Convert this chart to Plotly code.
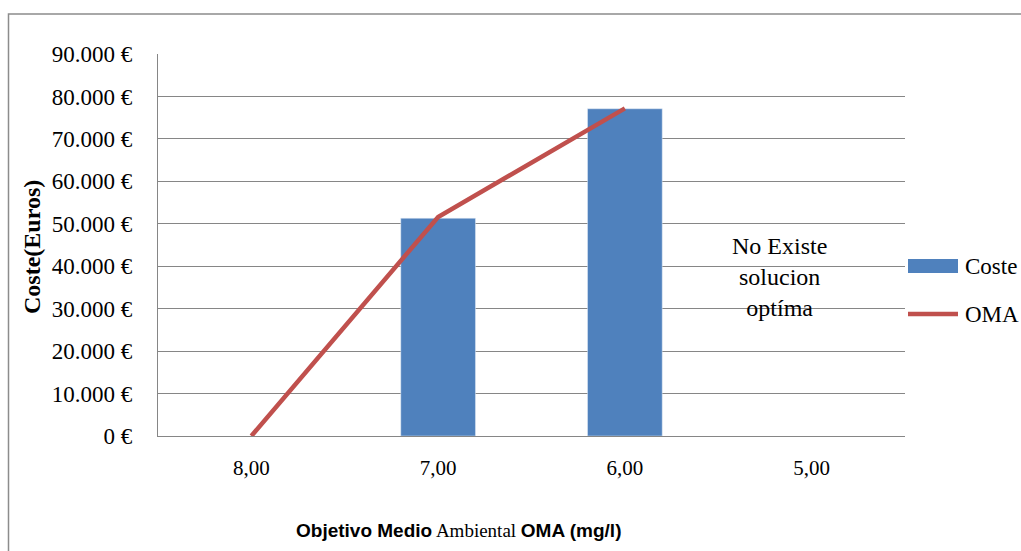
import plotly.graph_objects as go

categories = ["8,00", "7,00", "6,00", "5,00"]
coste = [None, 51300, 77100, None]
oma = [0, 51600, 77200, None]
y_ticks = [0, 10000, 20000, 30000, 40000, 50000, 60000, 70000, 80000, 90000]
y_tick_text = ["0 €", "10.000 €", "20.000 €", "30.000 €", "40.000 €", "50.000 €",
               "60.000 €", "70.000 €", "80.000 €", "90.000 €"]
note_text = "No Existe<br>solucion<br>optíma"

W, H = 1021, 551
L, R, T, B = 158, 905, 54, 436
pw, ph = R - L, B - T

def px(x):  # page pixel -> paper x
    return (x - L) / pw

def py(y):  # page pixel -> paper y
    return (B - y) / ph

serif = "Liberation Serif"
grid = "#868686"
blue = "#4F81BD"
red = "#C0504D"

fig = go.Figure()
fig.add_trace(go.Bar(x=categories, y=coste, name="Coste", marker_color=blue,
                     showlegend=False))
fig.add_trace(go.Scatter(x=categories, y=oma, name="OMA", mode="lines",
                         line=dict(color=red, width=4.5), showlegend=False))

fig.update_layout(
    width=W, height=H,
    margin=dict(l=L, r=W - R, t=T, b=H - B),
    paper_bgcolor="white", plot_bgcolor="white",
    bargap=0.6,
    font=dict(family=serif, size=21, color="black"),
    xaxis=dict(type="category", showgrid=False, showline=True, linecolor=grid,
               linewidth=1.2, ticks="", tickfont=dict(size=21), ticklabelstandoff=13),
    yaxis=dict(range=[0, 90000], tickvals=y_ticks, ticktext=y_tick_text,
               showgrid=True, gridcolor=grid, gridwidth=1.2, showline=True,
               linecolor=grid, linewidth=1.2, ticks="", zeroline=False,
               tickfont=dict(size=23), ticklabelstandoff=20),
)

# outer chart border
fig.add_shape(type="rect", xref="paper", yref="paper",
              x0=px(8.5), x1=px(1040), y0=py(570), y1=py(14),
              line=dict(color="#8c8c8c", width=1.5), layer="below")

# legend (drawn)
fig.add_shape(type="rect", xref="paper", yref="paper",
              x0=px(908), x1=px(958), y0=py(273), y1=py(259),
              fillcolor=blue, line=dict(width=0))
fig.add_shape(type="line", xref="paper", yref="paper",
              x0=px(908), x1=px(958), y0=py(314), y1=py(314),
              line=dict(color=red, width=4.5))
fig.add_annotation(x=px(963), y=py(266), xref="paper", yref="paper",
                   xanchor="left", yanchor="middle", text="Coste", showarrow=False,
                   font=dict(family=serif, size=23))
fig.add_annotation(x=px(963), y=py(314), xref="paper", yref="paper",
                   xanchor="left", yanchor="middle", text="OMA", showarrow=False,
                   font=dict(family=serif, size=23))

fig.add_annotation(x=px(779), y=py(277), xref="paper", yref="paper",
                   xanchor="center", yanchor="middle",
                   text=note_text, showarrow=False,
                   font=dict(family=serif, size=24), align="center")

fig.add_annotation(x=px(32), y=py(247), xref="paper", yref="paper",
                   xanchor="center", yanchor="middle",
                   text="<b>Coste(Euros)</b>", textangle=-90, showarrow=False,
                   font=dict(family=serif, size=24))

fig.add_annotation(x=px(458), y=py(530), xref="paper", yref="paper",
                   xanchor="center", yanchor="middle",
                   text=("<b><span style='font-family:Liberation Sans'>Objetivo Medio</span></b> "
                         "Ambiental <b><span style='font-family:Liberation Sans'>OMA (mg/l)</span></b>"),
                   showarrow=False, font=dict(family=serif, size=19))

fig.write_html("out.html", config={"displayModeBar": False},
               post_script="document.body.style.margin='0';document.body.style.overflow='hidden';")
